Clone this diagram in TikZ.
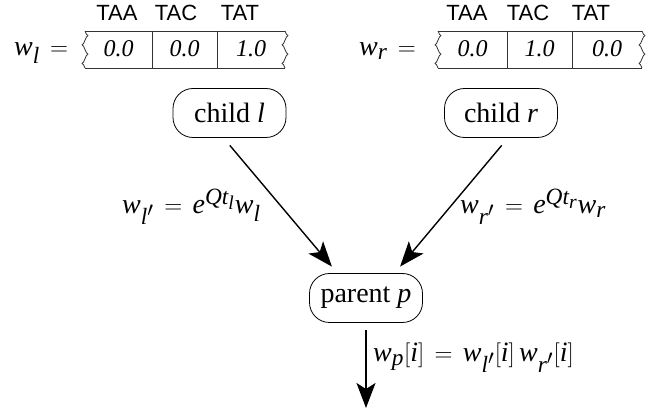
\documentclass[tikz,border=0pt]{standalone}
\usepackage{fontspec}
\setmainfont{Liberation Serif}
\newfontfamily\labsans{Liberation Sans}
\usepackage[italic,noequal]{mathastext}
\usetikzlibrary{arrows.meta}
\thickmuskip=7.5mu plus 2mu
\newcommand{\wavyedge}[3]{%
  \draw[boxline] (#1,#2) sin (#1+3,#2+0.125*#3-0.125*#2) cos (#1,#2+0.25*#3-0.25*#2)
    sin (#1-3,#2+0.375*#3-0.375*#2) cos (#1,#2+0.5*#3-0.5*#2)
    sin (#1+3,#2+0.625*#3-0.625*#2) cos (#1,#2+0.75*#3-0.75*#2)
    sin (#1-3,#2+0.875*#3-0.875*#2) cos (#1,#3);}
\begin{document}
\begin{tikzpicture}[x=1pt,y=-1pt,
  every node/.style={inner sep=0pt, font=\fontsize{28}{32}\selectfont},
  rnode/.style={draw, rounded corners=20pt, minimum width=113pt, minimum height=49pt, line width=0.8pt},
  arr/.style={-{Stealth[length=25pt,width=19pt,inset=6pt]}, line width=1.4pt},
  lab/.style={font=\labsans\fontsize{22}{26}\selectfont, anchor=base},
  cell/.style={anchor=base, font=\fontsize{24}{28}\selectfont\itshape},
  boxline/.style={line width=0.8pt, draw=black!80}]
\useasboundingbox (0,0) rectangle (659,411);

% left array
\node[anchor=base west] (wl) at (14,56) {$w_l =$};
\node[lab] (la1) at (117,21) {TAA};
\node[lab] (la2) at (176,21) {TAC};
\node[lab] (la3) at (240,21) {TAT};
\draw[boxline] (85,31) -- (285,31) (85,68) -- (285,68) (152,31) -- (152,68) (217,31) -- (217,68);
\wavyedge{85}{31}{68}
\wavyedge{285}{31}{68}
\node[cell] (l1) at (118.5,57) {0.0};
\node[cell] (l2) at (184.5,57) {0.0};
\node[cell] (l3) at (251,57) {1.0};

% right array
\node[anchor=base west] (wr) at (359,56) {$w_r =$};
\node[lab] (ra1) at (467,21) {TAA};
\node[lab] (ra2) at (528,21) {TAC};
\node[lab] (ra3) at (591,21) {TAT};
\draw[boxline] (438,31) -- (642,31) (438,68) -- (642,68) (507,31) -- (507,68) (572,31) -- (572,68);
\wavyedge{438}{31}{68}
\wavyedge{642}{31}{68}
\node[cell] (r1) at (472.5,57) {0.0};
\node[cell] (r2) at (539.5,57) {1.0};
\node[cell] (r3) at (607,57) {0.0};

% tree
\node[rnode] (cl) at (229.5,113) {child $l$};
\node[rnode] (cr) at (501,113) {child $r$};
\node[rnode] (pp) at (366,298) {parent $p$};
\coordinate (out) at (366,408);

\draw[arr, shorten <=9.8pt, shorten >=8.5pt] ([xshift=-6pt]cl.south) -- ([xshift=-28.6pt]pp.north);
\draw[arr, shorten <=9.8pt, shorten >=8.5pt] ([xshift=7pt]cr.south) -- ([xshift=28.6pt]pp.north);
\draw[arr, shorten <=7.5pt] (pp.south) -- (out);

\node[anchor=base west] (ll) at (122,214) {$w_{l'} = e^{Qt_l} w_l$};
\node[anchor=base west] (lr) at (460,214) {$w_{r'} = e^{Qt_r} w_r$};
\node[anchor=base west] (lp) at (373,362) {$w_p[i] = w_{l'}[i]\,w_{r'}[i]$};
\end{tikzpicture}
\end{document}
